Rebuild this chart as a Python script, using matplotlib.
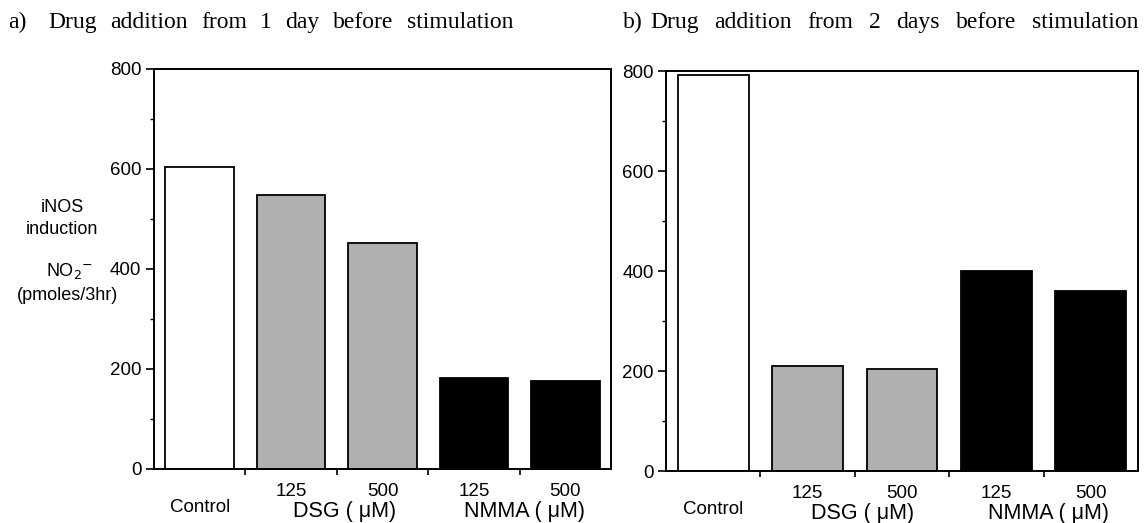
import matplotlib
matplotlib.use("Agg")
import matplotlib.pyplot as plt
from matplotlib.ticker import MultipleLocator, FixedLocator

plt.rcParams['font.family'] = ['Liberation Sans', 'DejaVu Sans']

groups = ["Control", "DSG 125", "DSG 500", "NMMA 125", "NMMA 500"]
conc_labels = ["", "125", "500", "125", "500"]
values_a = [604, 548, 452, 182, 176]
values_b = [792, 210, 204, 400, 360]
bar_colors = ["white", "#b0b0b0", "#b0b0b0", "black", "black"]
panel_tags = ["a)", "b)"]
titles = ["Drug addition from 1 day before stimulation",
          "Drug addition from 2 days before stimulation"]

W, H = 1144, 523
fig = plt.figure(figsize=(W / 100, H / 100), dpi=100)
ax_a = fig.add_axes([0.1346, 0.1033, 0.3995, 0.7648])
ax_b = fig.add_axes([0.5822, 0.0994, 0.4126, 0.7648])

for ax, vals in ((ax_a, values_a), (ax_b, values_b)):
    x = list(range(len(vals)))
    ax.bar(x, vals, width=0.75, color=bar_colors, edgecolor="black", linewidth=1.3)
    ax.set_xlim(-0.5, 4.5)
    ax.set_ylim(0, 800)
    ax.yaxis.set_major_locator(MultipleLocator(200))
    ax.yaxis.set_minor_locator(MultipleLocator(100))
    ax.xaxis.set_major_locator(FixedLocator([0.5, 1.5, 2.5, 3.5]))
    ax.set_xticklabels([])
    ax.tick_params(axis='y', which='major', direction='out', length=6, width=1.2, labelsize=13.5, pad=3)
    ax.tick_params(axis='y', which='minor', direction='out', length=3, width=1)
    ax.tick_params(axis='x', which='major', direction='out', length=4, width=1.2)
    for s in ax.spines.values():
        s.set_linewidth(1.4)
    trans = ax.get_xaxis_transform()
    for xi, lab in zip(x, conc_labels):
        if lab:
            ax.text(xi, -0.035, lab, transform=trans, ha='center', va='top', fontsize=13.5)
    ax.text(0, -0.075, "Control", transform=trans, ha='center', va='top', fontsize=13.5)
    ax.text(1.58, -0.08, "DSG ( μM)", transform=trans, ha='center', va='top', fontsize=15.5)
    ax.text(3.55, -0.08, "NMMA ( μM)", transform=trans, ha='center', va='top', fontsize=15.5)

# panel titles: words spread (wide tracking in the original print)
renderer = fig.canvas.get_renderer()
tag_x = [8, 623]
title_start = [48, 650]
title_end = [513, 1138]
base_y = 1 - 28 / H
for tag, t, tx, x0, x1 in zip(panel_tags, titles, tag_x, title_start, title_end):
    fig.text(tx / W, base_y, tag, family='Liberation Serif', fontsize=17,
             va='baseline', ha='left')
    words = t.split()
    objs = [fig.text(0, base_y, w, family='Liberation Serif', fontsize=17,
                     va='baseline', ha='left') for w in words]
    widths = [o.get_window_extent(renderer).width for o in objs]
    gap = (x1 - x0 - sum(widths)) / (len(words) - 1)
    pos = x0
    for o, wdt in zip(objs, widths):
        o.set_x(pos / W)
        pos += wdt + gap

fig.text(62 / W, 1 - 207 / H, "iNOS", ha='center', va='center', fontsize=13)
fig.text(62 / W, 1 - 229 / H, "induction", ha='center', va='center', fontsize=13)
fig.text(70 / W, 1 - 271 / H, "NO$_2$$^{\\mathsf{-}}$", ha='center', va='center', fontsize=13)
fig.text(67 / W, 1 - 295 / H, "(pmoles/3hr)", ha='center', va='center', fontsize=13)

fig.savefig("out.png", dpi=100)
